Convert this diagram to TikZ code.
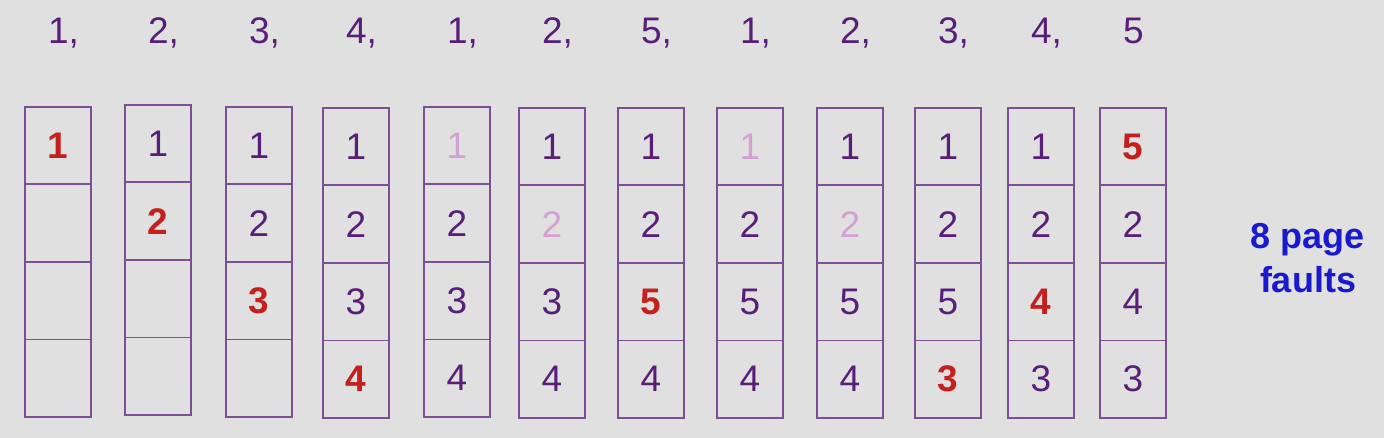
\documentclass[tikz,border=0pt]{standalone}
\usepackage{fontspec}
\setmainfont{Liberation Sans}
\definecolor{bg}{RGB}{224,224,224}
\definecolor{txt}{RGB}{88,30,120}
\definecolor{hit}{RGB}{196,32,30}
\definecolor{pale}{RGB}{212,160,212}
\definecolor{frame}{RGB}{125,78,150}
\definecolor{note}{RGB}{26,26,204}
\tikzset{
  cell/.style={draw=frame, line width=1.8pt, minimum width=66pt, minimum height=77.5pt, inner sep=0pt, anchor=north west, font=\fontsize{37}{37}\selectfont, text=txt},
  N/.style={},
  R/.style={text=hit, font=\fontsize{37}{37}\selectfont\bfseries},
  L/.style={text=pale},
  ref/.style={anchor=base west, font=\fontsize{37}{37}\selectfont, text=txt, inner sep=0pt},
  faults/.style={font=\fontsize{36}{44}\selectfont\bfseries, text=note, align=center}
}
\begin{document}
\begin{tikzpicture}[x=1pt,y=-1pt]
\useasboundingbox[fill=bg] (0,0) rectangle (1384,438);
% columns: index / left x / top y / four cells (style/text)
\foreach \i/\x/\t/\lst in {
  1/24/106/{R/1,N/{},N/{},N/{}},
  2/124/104/{N/1,R/2,N/{},N/{}},
  3/225/106/{N/1,N/2,R/3,N/{}},
  4/322/107/{N/1,N/2,N/3,R/4},
  5/423/106/{L/1,N/2,N/3,N/4},
  6/518/107/{N/1,L/2,N/3,N/4},
  7/617/107/{N/1,N/2,R/5,N/4},
  8/716/107/{L/1,N/2,N/5,N/4},
  9/816/107/{N/1,L/2,N/5,N/4},
  10/914/107/{N/1,N/2,N/5,R/3},
  11/1007/107/{N/1,N/2,R/4,N/3},
  12/1099/107/{R/5,N/2,N/4,N/3}}{
  \foreach \s/\v [count=\j] in \lst {
    \node[cell,\s] (c\i-\j) at (\x,\t+77.5*\j-77.5) {\v};
  }
}
% reference string
\foreach \i/\s in {1/{1,},2/{2,},3/{3,},4/{4,},5/{1,},6/{2,},7/{5,},8/{1,},9/{2,},10/{3,},11/{4,},12/{5}}{
  \path (c\i-1.north |- 0,44) ++(-10,0) node[ref] (r\i) {\s};
}
\node[faults] (pf) at (1308,258) {8 page\\faults};
\end{tikzpicture}
\end{document}
